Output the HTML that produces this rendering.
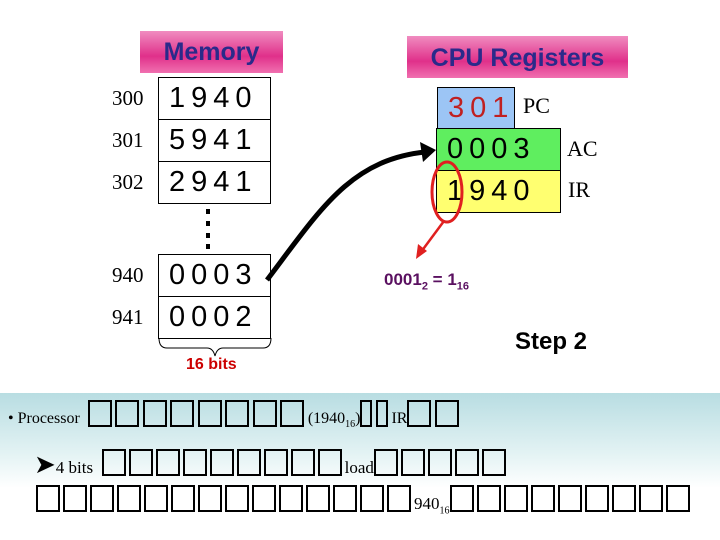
<!DOCTYPE html>
<html><head><meta charset="utf-8"><style>
body{margin:0;width:720px;height:540px;background:#fff;position:relative;overflow:hidden;font-family:"Liberation Sans",sans-serif}
.a{position:absolute}
.title{background:linear-gradient(#f08cc0,#e0308a 60%,#f070b0);color:#2a2a8a;font-weight:bold;font-size:25px;text-align:center}
.cell{position:absolute;border:1px solid #000;font-size:29px;letter-spacing:6px;padding-left:10px;box-sizing:border-box;line-height:40px}
.ad{position:absolute;font-family:"Liberation Serif",serif;font-size:21px}
.box{display:inline-block;width:24px;height:27px;border:2.5px solid #000;box-sizing:border-box;margin-right:3.5px;vertical-align:-4px}
.box2{display:inline-block;width:24px;height:27px;border:2.5px solid #000;box-sizing:border-box;margin-right:3px;vertical-align:-3px}
.ser{font-family:"Liberation Serif",serif}
</style></head><body>
<div class="a title" style="left:140px;top:31px;width:143px;height:42px;line-height:42px">Memory</div>
<div class="a title" style="left:407px;top:36px;width:221px;height:42px;line-height:44px">CPU Registers</div>

<div class="ad" style="left:112px;top:86px">300</div>
<div class="ad" style="left:112px;top:128px">301</div>
<div class="ad" style="left:112px;top:170px">302</div>
<div class="ad" style="left:112px;top:263px">940</div>
<div class="ad" style="left:112px;top:305px">941</div>
<div class="cell" style="left:158px;top:77px;width:113px;height:43px">1940</div>
<div class="cell" style="left:158px;top:119px;width:113px;height:43px">5941</div>
<div class="cell" style="left:158px;top:161px;width:113px;height:43px">2941</div>
<div class="cell" style="left:158px;top:254px;width:113px;height:43px">0003</div>
<div class="cell" style="left:158px;top:296px;width:113px;height:43px">0002</div>
<svg class="a" style="left:0;top:0" width="720" height="540">
<g fill="#000"><rect x="206" y="209" width="4" height="5"/><rect x="206" y="221" width="4" height="5"/><rect x="206" y="233" width="4" height="5"/><rect x="206" y="244" width="4" height="5"/></g>
<path d="M159 338 q0 10 8 10 h40 q6 0 8 8 q2-8 8-8 h40 q8 0 8-10" fill="none" stroke="#000" stroke-width="1"/>
<path d="M267 280 C320 210 350 160 425 152" fill="none" stroke="#000" stroke-width="5"/>
<path d="M436 150 L420 142 L423 162 Z" fill="#000"/>
</svg>
<div class="a" style="left:186px;top:356px;color:#c00;font-weight:bold;font-size:16px">16 bits</div>

<div class="cell" style="left:437px;top:87px;width:78px;height:42px;background:#9cc5f5;color:#c02020">301</div>
<div class="cell" style="left:436px;top:128px;width:125px;height:43px;background:#5fee5f">0003</div>
<div class="cell" style="left:436px;top:170px;width:125px;height:43px;background:#ffff70">1940</div>
<div class="ad" style="left:523px;top:93px;font-size:22px">PC</div>
<div class="ad" style="left:567px;top:136px;font-size:22px">AC</div>
<div class="ad" style="left:568px;top:177px;font-size:22px">IR</div>
<svg class="a" style="left:0;top:0" width="720" height="540">
<ellipse cx="447" cy="192" rx="15" ry="30" fill="none" stroke="#e02020" stroke-width="3"/>
<line x1="444" y1="221" x2="421" y2="252" stroke="#e02020" stroke-width="2.5"/>
<path d="M416 259 L418 244 L427 251 Z" fill="#e02020"/>
</svg>
<div class="a" style="left:384px;top:270px;color:#5a1060;font-weight:bold;font-size:17px">0001<sub style="font-size:11px">2</sub> = 1<sub style="font-size:11px">16</sub></div>
<div class="a" style="left:515px;top:328px;font-weight:bold;font-size:24px">Step 2</div>

<div class="a" style="left:0;top:393px;width:720px;height:95px;background:linear-gradient(#b8dde2,#e4f3f4 65%,#fff)"></div>
<div class="a ser" style="left:8px;top:400px;font-size:16px;white-space:nowrap">• Processor&nbsp; <span class="box"></span><span class="box"></span><span class="box"></span><span class="box"></span><span class="box"></span><span class="box"></span><span class="box"></span><span class="box"></span>(1940<sub style="font-size:10px">16</sub>)<span class="box" style="width:12px"></span><span class="box" style="width:12px"></span>IR<span class="box"></span><span class="box"></span></div>
<div class="a ser" style="left:34px;top:449px;font-size:17px;white-space:nowrap"><span style="font-size:26px">➤</span>4 bits&nbsp; <span class="box2"></span><span class="box2"></span><span class="box2"></span><span class="box2"></span><span class="box2"></span><span class="box2"></span><span class="box2"></span><span class="box2"></span><span class="box2"></span>load<span class="box2"></span><span class="box2"></span><span class="box2"></span><span class="box2"></span><span class="box2"></span></div>
<div class="a ser" style="left:36px;top:485px;font-size:17px;white-space:nowrap"><span class="box2"></span><span class="box2"></span><span class="box2"></span><span class="box2"></span><span class="box2"></span><span class="box2"></span><span class="box2"></span><span class="box2"></span><span class="box2"></span><span class="box2"></span><span class="box2"></span><span class="box2"></span><span class="box2"></span><span class="box2"></span>940<sub style="font-size:10px">16</sub><span class="box2"></span><span class="box2"></span><span class="box2"></span><span class="box2"></span><span class="box2"></span><span class="box2"></span><span class="box2"></span><span class="box2"></span><span class="box2"></span></div>
</body></html>
